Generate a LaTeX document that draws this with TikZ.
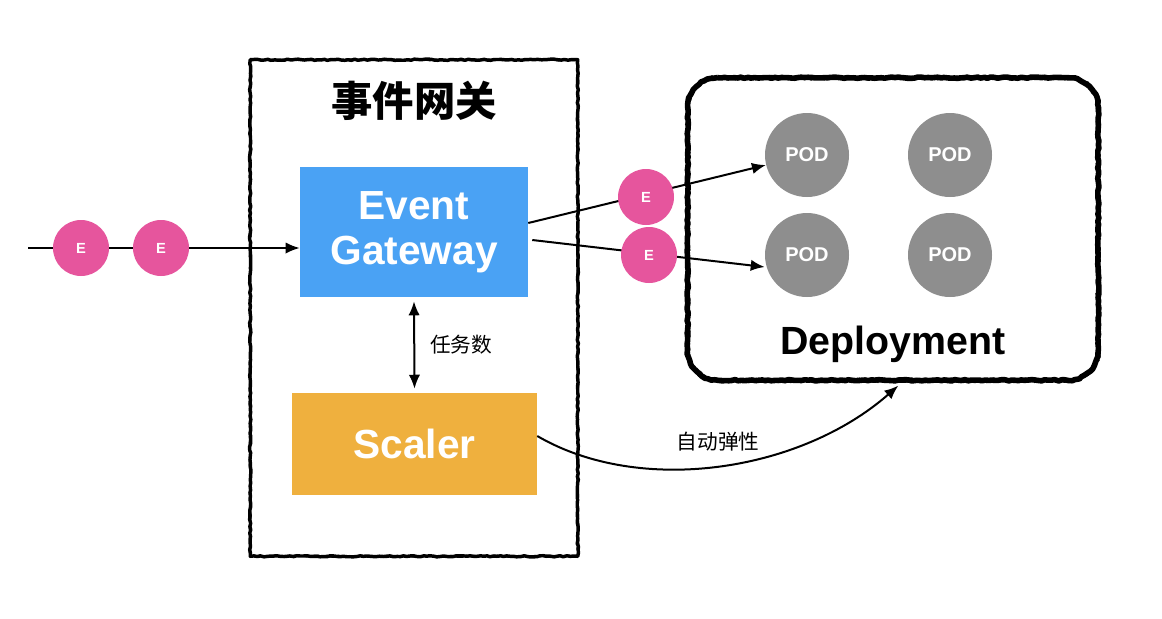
\documentclass[tikz,border=0pt]{standalone}
\usepackage{fontspec}
\setmainfont{Liberation Sans}
\newfontfamily\cjk{Noto Sans CJK SC}
\usetikzlibrary{arrows.meta,decorations.pathmorphing}
\definecolor{gwblue}{HTML}{4AA2F4}
\definecolor{scorange}{HTML}{EFB03E}
\definecolor{evpink}{HTML}{E6559D}
\definecolor{podgray}{HTML}{8E8E8E}
\tikzset{
  rough/.style={draw=black, line join=round, decorate,
    decoration={random steps, segment length=2.5pt, amplitude=0.45pt}},
  evnode/.style={circle, fill=evpink, minimum size=42pt, inner sep=0pt,
    text=white, font=\bfseries\fontsize{11}{11}\selectfont},
  podnode/.style={circle, fill=podgray, minimum size=63pt, inner sep=0pt,
    text=white, font=\bfseries\fontsize{15}{15}\selectfont},
  bigbox/.style={rectangle, inner sep=0pt, text=white, align=center,
    font=\bfseries\fontsize{30.5}{34}\selectfont},
  conn/.style={draw=black, line width=1.5pt, -{Latex[length=10.5pt,width=8.5pt]}},
  lbl/.style={font=\cjk\fontsize{15.5}{15.5}\selectfont, inner sep=0pt}
}
\begin{document}
\begin{tikzpicture}[x=0.75pt,y=-0.75pt]
\useasboundingbox[fill=white] (0,0) rectangle (1162,618);

% gateway frame
\node[minimum width=245.25pt, minimum height=372pt, inner sep=0pt] (frame) at (414,308) {};
\draw[rough, line width=2.6pt] (frame.north west) rectangle (frame.south east);
\draw[rough, line width=1pt, decoration={random steps, segment length=3pt, amplitude=0.8pt}] (frame.north west) rectangle (frame.south east);
\node[font=\cjk\bfseries\fontsize{31}{31}\selectfont, inner sep=0pt] (title) at (414,101) {事件网关};

% deployment frame
\node[minimum width=307.5pt, minimum height=226.5pt, inner sep=0pt] (deploy) at (893,229) {};
\foreach \lw/\amp/\seg in {4.2pt/0.5pt/2.5pt, 1.4pt/1.5pt/1.8pt, 0.8pt/1.8pt/1.5pt}{
  \draw[rough, line width=\lw, decoration={random steps, segment length=\seg, amplitude=\amp}]
    ([xshift=22.5pt]deploy.north west) -- ([xshift=-22.5pt]deploy.north east)
    arc[start angle=90, end angle=0, radius=22.5pt]
    -- ([yshift=22.5pt]deploy.south east)
    arc[start angle=0, end angle=-90, radius=22.5pt]
    -- ([xshift=22.5pt]deploy.south west)
    arc[start angle=-90, end angle=-180, radius=22.5pt]
    -- ([yshift=-22.5pt]deploy.north west)
    arc[start angle=180, end angle=90, radius=22.5pt] -- cycle;
}
\node[font=\fontsize{29.5}{29.5}\selectfont\bfseries, inner sep=0pt] (dlabel) at (893,344) {Deployment};

% boxes
\node[bigbox, fill=gwblue, minimum width=171pt, minimum height=97.5pt] (gw) at (414,232) {Event\\Gateway};
\node[bigbox, fill=scorange, minimum width=183.75pt, minimum height=76.5pt] (sc) at (414.5,444) {Scaler};

% pods
\node[podnode] (pod1) at (807,155) {POD};
\node[podnode] (pod2) at (950,155) {POD};
\node[podnode] (pod3) at (807,255) {POD};
\node[podnode] (pod4) at (950,255) {POD};

% input line
\coordinate (in) at (28,248);
\draw[conn] (in) -- ([yshift=-12pt]gw.west);
\node[evnode] (e1) at (81,248) {E};
\node[evnode] (e2) at (161,248) {E};

% output lines
\draw[conn] ([yshift=6.75pt]gw.east) -- (pod1);
\draw[conn] ([xshift=3pt,yshift=-6pt]gw.east) -- ([yshift=-9pt]pod3.west);
\node[evnode] (e3) at (646,197) {E};
\node[evnode] (e4) at (649,255) {E};

% task count
\draw[line width=1.5pt, {Latex[length=10.5pt,width=8.5pt]}-{Latex[length=10.5pt,width=8.5pt]}] ([yshift=-3pt]gw.south) -- ([yshift=3pt]sc.north);
\node[lbl] (tasks) at (461,345) {任务数};

% autoscale curve
\draw[conn] ([yshift=6pt]sc.east) .. controls (640,496) and (800,472) .. ([xshift=4pt,yshift=-4pt]deploy.south);
\node[lbl] (auto) at (718,442) {自动弹性};
\end{tikzpicture}
\end{document}
